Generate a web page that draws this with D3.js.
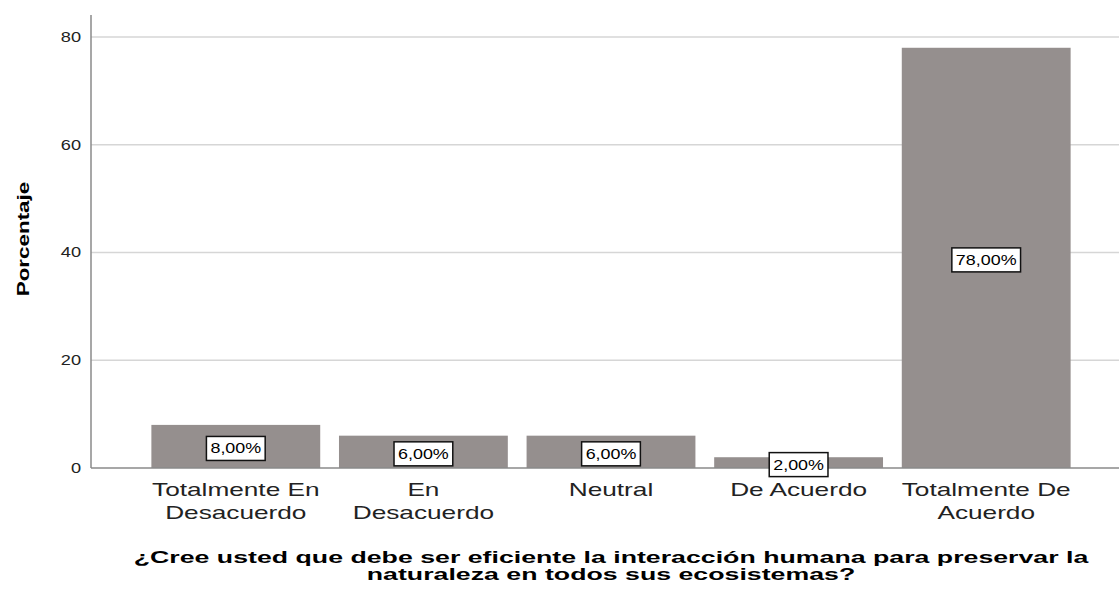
<!doctype html>
<html>
<head>
<script src="https://d3js.org/d3.v7.min.js"></script>
<style>
body { margin: 0; background: #fff; }
svg { font-family: "Liberation Sans", Arial, sans-serif; }
</style>
</head>
<body>
<svg width="1119" height="589"></svg>
<script>
// data
var categories = [["Totalmente En", "Desacuerdo"], ["En", "Desacuerdo"], ["Neutral"], ["De Acuerdo"], ["Totalmente De", "Acuerdo"]];
var values = [8, 6, 6, 2, 78];
var labels = ["8,00%", "6,00%", "6,00%", "2,00%", "78,00%"];
var yTicks = [0, 20, 40, 60, 80];

var svg = d3.select("svg");
var plotL = 91, plotR = 1119, plotT = 15, plotB = 468;

var x = d3.scaleBand().domain(d3.range(values.length)).range([142, 1080])
    .paddingInner(0.1).paddingOuter(0.05);
var y = d3.scaleLinear().domain([0, 80]).range([plotB, 37]);

// gridlines
svg.append("g").selectAll("line").data(yTicks.slice(1)).enter().append("line")
    .attr("x1", plotL).attr("x2", plotR)
    .attr("y1", d => y(d)).attr("y2", d => y(d))
    .attr("stroke", "#d6d6d6").attr("stroke-width", 1.5);

// y axis (text drawn wide like the SPSS output)
var tickScale = 1.3;
var yAxis = svg.append("g").attr("transform", "translate(" + plotL + ",0)")
    .call(d3.axisLeft(y).tickValues(yTicks).tickSize(0));
yAxis.select(".domain").remove();
yAxis.selectAll("text").attr("font-size", 14).attr("fill", "#222")
    .attr("font-family", "Liberation Sans, Arial, sans-serif")
    .attr("x", -10 / tickScale)
    .attr("transform", "scale(" + tickScale + ",1)");

svg.append("line").attr("x1", plotL).attr("x2", plotL).attr("y1", plotT).attr("y2", plotB)
    .attr("stroke", "#8a8a8a").attr("stroke-width", 1.5);

// bars
svg.append("g").selectAll("rect").data(values).enter().append("rect")
    .attr("x", (d, i) => x(i)).attr("width", x.bandwidth())
    .attr("y", d => y(d)).attr("height", d => plotB - y(d))
    .attr("fill", "#958f8e");

// x axis baseline
svg.append("line").attr("x1", plotL).attr("x2", plotR).attr("y1", plotB).attr("y2", plotB)
    .attr("stroke", "#8a8a8a").attr("stroke-width", 1.5);

// value labels
var labScale = 1.28;
var lab = svg.append("g").selectAll("g").data(values).enter().append("g")
    .attr("transform", (d, i) => "translate(" + (x(i) + x.bandwidth() / 2) + "," + ((y(d) + plotB) / 2 + 2) + ")");
lab.append("text").attr("text-anchor", "middle").attr("dy", "0.36em")
    .attr("font-size", 14).attr("fill", "#000")
    .attr("transform", "scale(" + labScale + ",1)")
    .text((d, i) => labels[i])
    .each(function() {
        var w = this.getBBox().width * labScale;
        d3.select(this.parentNode).insert("rect", "text")
            .attr("x", -w / 2 - 4).attr("y", -12).attr("width", w + 8).attr("height", 24)
            .attr("fill", "#fff").attr("stroke", "#111").attr("stroke-width", 1.5);
    });

// category labels
var catScale = 1.38;
var cat = svg.append("g").selectAll("g").data(categories).enter().append("g")
    .attr("transform", (d, i) => "translate(" + (x(i) + x.bandwidth() / 2) + ",496) scale(" + catScale + ",1)");
cat.selectAll("text").data(d => d).enter().append("text")
    .attr("text-anchor", "middle").attr("font-size", 19).attr("fill", "#222")
    .attr("y", (d, i) => i * 23)
    .text(d => d);

// axis titles
svg.append("text").attr("text-anchor", "middle")
    .attr("transform", "translate(29,239) rotate(-90) scale(1.4,1)")
    .attr("font-size", 16).attr("font-weight", "bold").attr("fill", "#000")
    .text("Porcentaje");

var title = ["¿Cree usted que debe ser eficiente la interacción humana para preservar la", "naturaleza en todos sus ecosistemas?"];
svg.append("g").attr("transform", "translate(611,0) scale(1.67,1)")
    .selectAll("text").data(title).enter().append("text")
    .attr("text-anchor", "middle").attr("font-size", 16).attr("font-weight", "bold").attr("fill", "#000")
    .attr("y", (d, i) => 563 + i * 17)
    .text(d => d);
</script>
</body>
</html>
